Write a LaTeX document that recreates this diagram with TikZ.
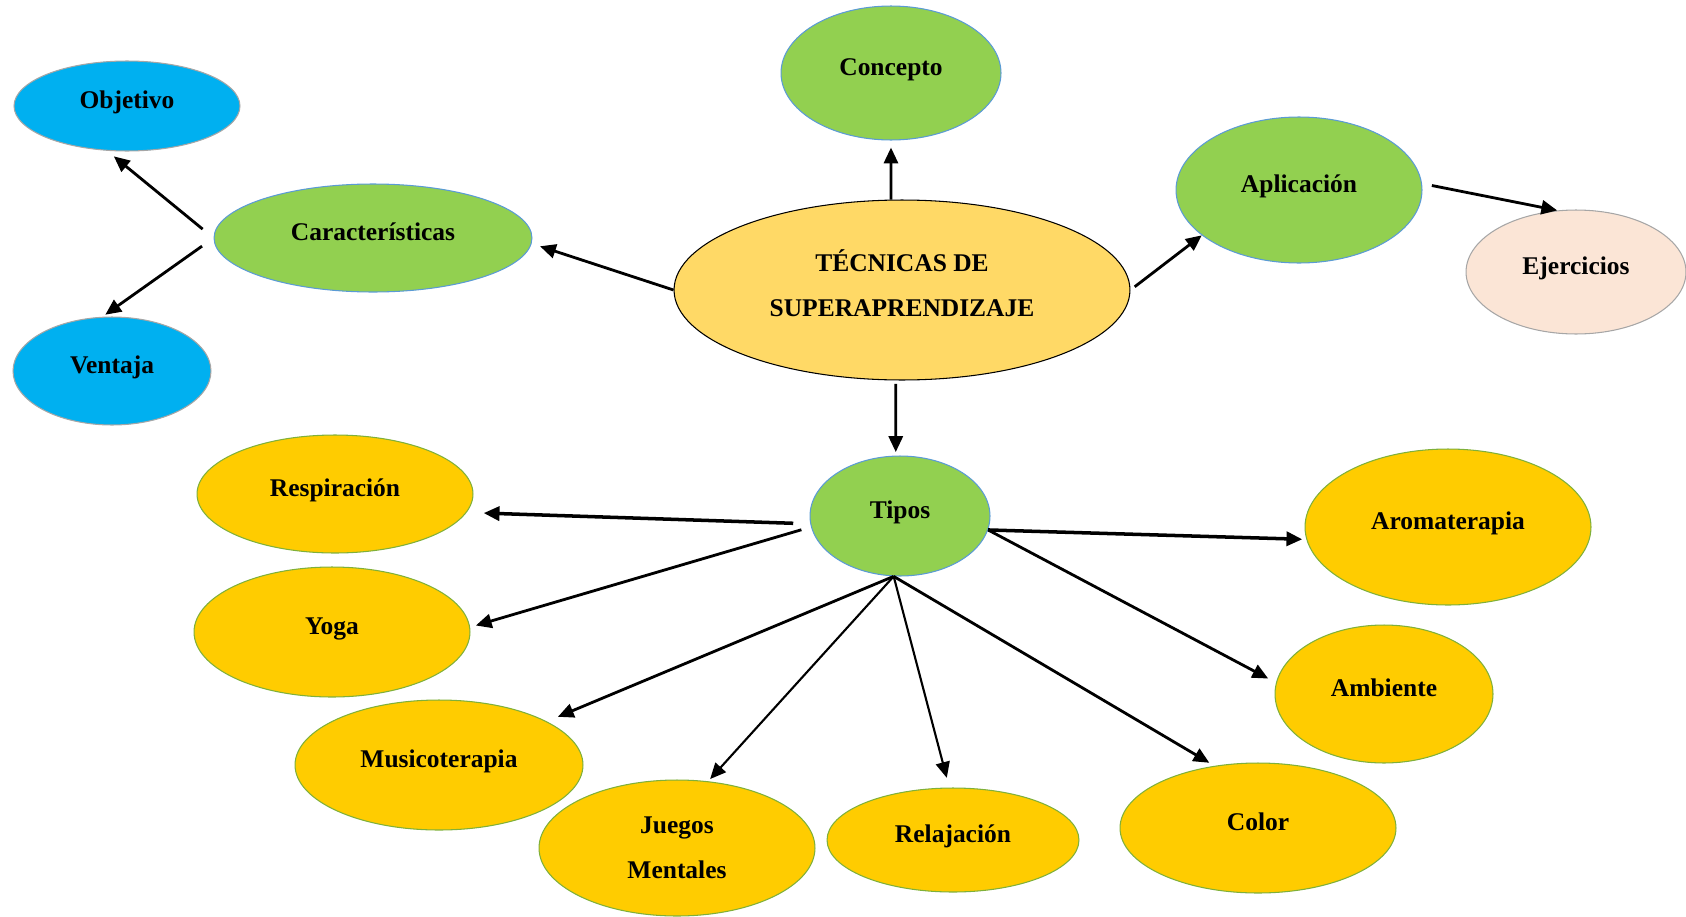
\documentclass[tikz,border=0pt]{standalone}
\usepackage{fontspec}
\setmainfont{Liberation Serif}
\usetikzlibrary{arrows.meta,shapes.geometric}

\definecolor{azul}{HTML}{00B0F0}
\definecolor{verde}{HTML}{92D050}
\definecolor{amarillo}{HTML}{FFD966}
\definecolor{oro}{HTML}{FFCC00}
\definecolor{rosa}{HTML}{FBE5D6}
\definecolor{gris}{HTML}{A6A6A6}
\definecolor{borde}{HTML}{5B9BD5}
\definecolor{bordeoro}{HTML}{7FB03A}

\begin{document}
\begin{tikzpicture}[x=0.02cm, y=-0.02cm,
    main node/.style={ellipse,draw,line width=0.6pt,inner sep=0pt,
                      font=\fontsize{14.5}{25.5}\selectfont\bfseries},
    one line/.style={text height=10pt,text depth=7pt},
    blue node/.style={main node,one line,fill=azul,draw=gris},
    green node/.style={main node,one line,fill=verde,draw=borde},
    gold node/.style={main node,one line,fill=oro,draw=bordeoro},
    flecha/.style={line width=1.6pt,-{Triangle[length=9pt,width=8pt]}}]
  \useasboundingbox (0,0) rectangle (1686,916);

  \node[blue node,minimum width=4.52cm,minimum height=1.8cm] (obj) at (127,106) {Objetivo};
  \node[green node,minimum width=6.36cm,minimum height=2.16cm] (car) at (373,238) {Características};
  \node[blue node,minimum width=3.96cm,minimum height=2.16cm] (vent) at (112,371) {Ventaja};
  \node[green node,minimum width=4.4cm,minimum height=2.68cm] (conc) at (891,73) {Concepto};
  \node[main node,fill=amarillo,align=center,minimum width=9.12cm,minimum height=3.6cm] (tec) at (902,290) {TÉCNICAS DE\\SUPERAPRENDIZAJE\\[-18pt]};
  \node[green node,minimum width=4.92cm,minimum height=2.92cm] (apl) at (1299,190) {Aplicación};
  \node[main node,one line,fill=rosa,draw=gris,minimum width=4.4cm,minimum height=2.48cm] (ejer) at (1576,272) {Ejercicios};
  \node[green node,minimum width=3.6cm,minimum height=2.4cm] (tipos) at (900,516) {Tipos};
  \node[gold node,minimum width=5.52cm,minimum height=2.36cm] (resp) at (335,494) {Respiración};
  \node[gold node,minimum width=5.52cm,minimum height=2.6cm] (yoga) at (332,632) {Yoga};
  \node[gold node,minimum width=5.76cm,minimum height=2.6cm] (musi) at (439,765) {Musicoterapia};
  \node[main node,fill=oro,draw=bordeoro,align=center,minimum width=5.52cm,minimum height=2.72cm] (jueg) at (677,848) {Juegos\\Mentales};
  \node[gold node,minimum width=5.04cm,minimum height=2.08cm] (rel) at (953,840) {Relajación};
  \node[gold node,minimum width=5.52cm,minimum height=2.6cm] (col) at (1258,828) {Color};
  \node[gold node,minimum width=4.36cm,minimum height=2.76cm] (amb) at (1384,694) {Ambiente};
  \node[gold node,minimum width=5.72cm,minimum height=3.12cm] (aro) at (1448,527) {Aromaterapia};

  \path[flecha]
    (tec.97) edge[shorten >=4pt] (conc.south)
    (tec.west) edge[shorten >=5pt] (car.-2)
    (car.west) edge[shorten <=8pt,shorten >=5pt] (obj.246)
               edge[shorten <=8pt,shorten >=2pt] (vent.100)
    (tec.east) edge[shorten <=3pt] (apl.205)
    (apl.3) edge[shorten <=5.7pt] (ejer.107)
    (tec.266) edge[shorten <=2pt,shorten >=2pt] (tipos.94)
    (tipos.185) edge[line width=2pt,shorten <=9.7pt,shorten >=9.7pt] (resp.-8)
    (tipos.187) edge[shorten <=5.7pt,shorten >=3.4pt] (yoga.2)
    (tipos.264) edge[shorten >=6.8pt] (musi.22)
                edge[line width=1.2pt,shorten >=1.7pt] (jueg.65)
                edge[line width=1.2pt,shorten >=5.7pt] (rel.94)
                edge[shorten >=3.4pt] (col.125)
    (tipos.-9) edge[line width=2pt,shorten >=2.3pt] (aro.185)
               edge[shorten >=5pt] (amb.174);
\end{tikzpicture}
\end{document}
